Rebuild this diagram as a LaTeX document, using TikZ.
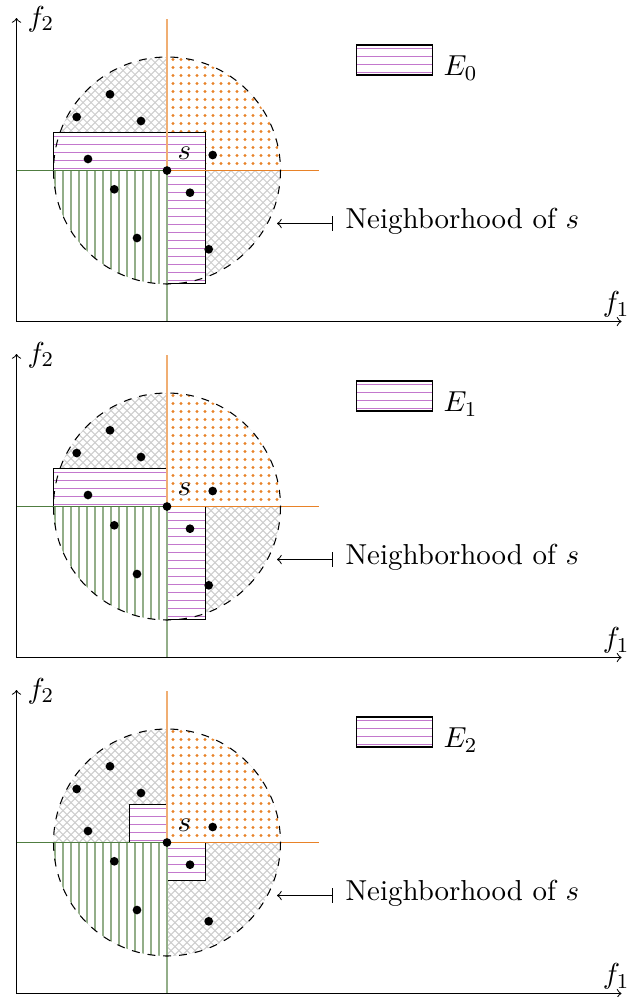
\documentclass[tikz,border=0pt]{standalone}
\definecolor{myorange}{RGB}{232,130,40}
\definecolor{mygreen}{RGB}{80,125,65}
\definecolor{mypurple}{RGB}{195,120,205}
\definecolor{mygray}{RGB}{205,205,205}
\tikzset{
  ptdot/.style={circle, fill=black, inner sep=0pt, minimum size=3.3pt},
  axisline/.style={->, black, line width=0.4pt},
  lbl/.style={inner sep=0pt},
  thinline/.style={line width=0.4pt},
  colline/.style={line width=0.379pt},
  vcolline/.style={line width=0.758pt},
}
% #1 suffix, #2 index, #3 y-offset, #4 E region path
\newcommand{\drawpanel}[4]{%
\begin{scope}[shift={(0,#3)}]
  \coordinate (c#1) at (167,170.5);
  % gray crosshatch over the whole neighbourhood
  \begin{scope}
    \clip (c#1) circle[radius=113.5];
    \foreach \k in {-32,...,32} {
      \draw[mygray, thinline] ({167+8*\k-130},{170.5-130}) -- ++(260,260);
      \draw[mygray, thinline] ({167+8*\k-130},{170.5+130}) -- ++(260,-260);
    }
  \end{scope}
  % orange dotted upper right quadrant
  \begin{scope}
    \clip (c#1) circle[radius=113.5];
    \fill[white] (c#1) rectangle (290,50);
    \foreach \i in {0,...,14} {
      \foreach \j in {0,...,14} {
        \fill[myorange] ({173+8*\i},{163.5-8*\j}) circle[radius=0.6pt];
      }
    }
  \end{scope}
  % E region
  \fill[white] #4;
  \begin{scope}
    \clip #4;
    \foreach \k in {-1,...,20} {
      \draw[mypurple, colline] (40,{136.5+8*\k}) -- (300,{136.5+8*\k});
    }
  \end{scope}
  \draw[black, thinline] #4;
  % green lower left quadrant
  \begin{scope}
    \clip (c#1) circle[radius=113.5];
    \fill[white] (c#1) rectangle (50,290);
    \foreach \k in {0,...,14} {
      \draw[mygreen!62!white, vcolline] ({159-8*\k},170.5) -- ({159-8*\k},290);
    }
  \end{scope}
  \coordinate (t#1) at (167,18.8);
  \coordinate (b#1) at (167,321.5);
  \coordinate (l#1) at (16,170.5);
  \coordinate (r#1) at (318.7,170.5);
  \draw[myorange!65!white, vcolline] (c#1) -- (t#1);
  \draw[myorange, colline] (c#1) -- (r#1);
  \draw[mygreen, colline] (c#1) -- (l#1);
  \draw[mygreen!62!white, vcolline] (c#1) -- (b#1);
  \draw[dashed, black, thinline] (c#1) circle[radius=113.5];
  \node[ptdot] (s#1) at (c#1) {};
  \node[ptdot] (p1#1) at (110,94.3) {};
  \node[ptdot] (p2#1) at (76.7,117) {};
  \node[ptdot] (p3#1) at (141,121) {};
  \node[ptdot] (p4#1) at (88,159) {};
  \node[ptdot] (p5#1) at (212.7,155) {};
  \node[ptdot] (p6#1) at (114.3,189.3) {};
  \node[ptdot] (p7#1) at (190,192.7) {};
  \node[ptdot] (p8#1) at (137,238) {};
  \node[ptdot] (p9#1) at (208.7,249.3) {};
  \node[lbl, anchor=base] (sl#1) at (184.5,159.3) {$s$};
  % axes
  \coordinate (o#1) at (16.5,321.5);
  \coordinate (ya#1) at (16.5,18);
  \coordinate (xa#1) at (621.5,321.5);
  \draw[axisline] (o#1) -- (ya#1);
  \draw[axisline] (o#1) -- (xa#1);
  \node[lbl, anchor=base west] (f2#1) at (27,26) {$f_2$};
  \node[lbl, anchor=base east] (f1#1) at (630,311.7) {$f_1$};
  % legend
  \fill[white] (356.5,45) rectangle (432.5,75);
  \begin{scope}
    \clip (356.5,45) rectangle (432.5,75);
    \foreach \k in {0,...,3} {
      \draw[mypurple, colline] (350,{48.5+8*\k}) -- (440,{48.5+8*\k});
    }
  \end{scope}
  \draw[black, thinline] (356.5,45) rectangle (432.5,75);
  \node[lbl, anchor=base west] (E#1) at (443,75.7) {$E_{#2}$};
  % neighborhood
  \node[lbl, anchor=base west] (nb#1) at (345,228.5) {Neighborhood of $s$};
  \coordinate (ns#1) at (333,223.5);
  \coordinate (nt#1) at (277,223.5);
  \draw[|->, thinline] (ns#1) -- (nt#1);
\end{scope}}
\begin{document}
\begin{tikzpicture}[x=0.379pt, y=-0.379pt, font=\fontsize{10.95}{13.6}\selectfont]
  \useasboundingbox (0,0) rectangle (630,997);
  \drawpanel{a}{0}{0}{(53.5,132.5) rectangle (205.5,170.5) (159,170.5) rectangle (205.5,283.5)}
  \drawpanel{b}{1}{336}{(53.5,132.5) rectangle (167,170.5) (167,170.5) rectangle (205.5,283.5)}
  \drawpanel{c}{2}{672}{(129.5,132.5) rectangle (167,170.5) (167,170.5) rectangle (205.5,208.5)}
\end{tikzpicture}
\end{document}
